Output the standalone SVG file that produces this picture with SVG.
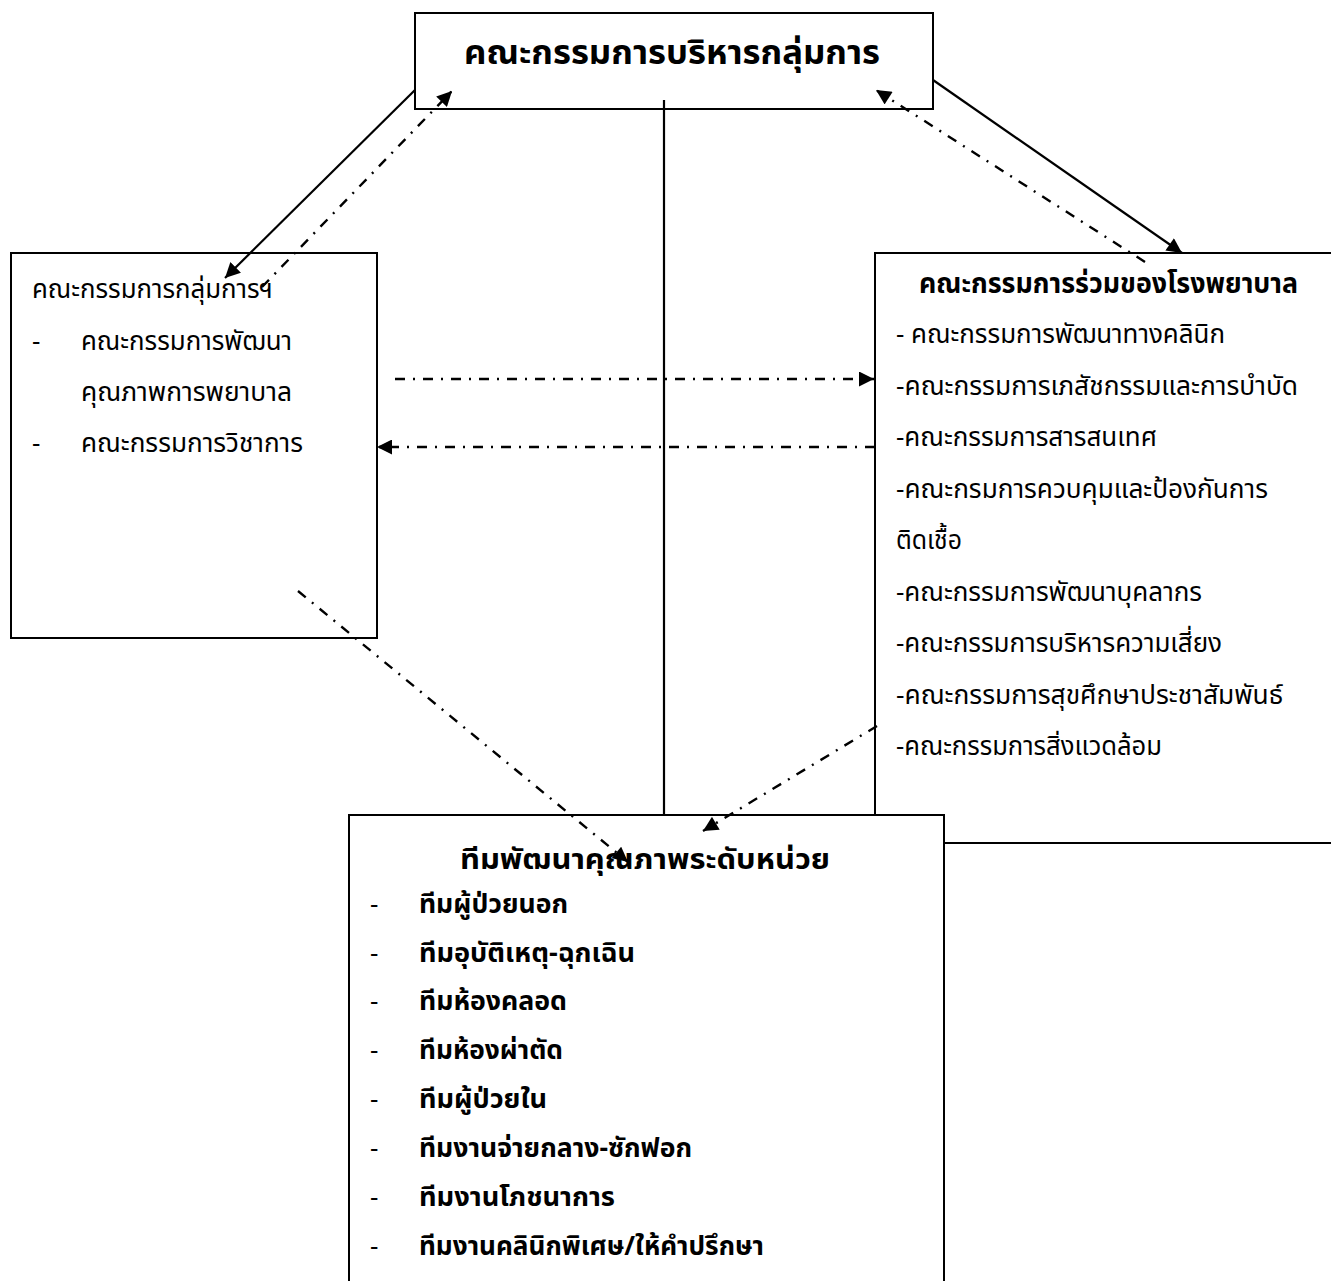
<svg xmlns="http://www.w3.org/2000/svg" width="1331" height="1281" viewBox="0 0 1331 1281">
<style>
text{font-family:"Noto Sans Thai","DejaVu Sans","Noto Sans",sans-serif;fill:#000}
.r{font-size:26px}
.b{font-size:26px;font-weight:bold}
.h{font-size:28px;font-weight:bold}
.t{font-size:34px;font-weight:bold}
.box{fill:#fff;stroke:#000;stroke-width:2}
.sol{stroke:#000;stroke-width:2.2;fill:none}
.dd{stroke:#000;stroke-width:2.4;fill:none;stroke-dasharray:10 8 2 8}
</style>
<defs>
<marker id="ah" viewBox="0 0 10 10" refX="10" refY="5" markerWidth="16" markerHeight="15" markerUnits="userSpaceOnUse" orient="auto">
<path d="M0,0 L10,5 L0,10 z" fill="#000"/>
</marker>
</defs>

<g id="node-right">
<rect class="box" x="875" y="253" width="470" height="590"/>
<text class="h" x="919" y="293" textLength="379" lengthAdjust="spacingAndGlyphs">คณะกรรมการร่วมของโรงพยาบาล</text>
<text class="r" x="896" y="343" textLength="329" lengthAdjust="spacingAndGlyphs">- คณะกรรมการพัฒนาทางคลินิก</text>
<text class="r" x="896" y="395" textLength="402" lengthAdjust="spacingAndGlyphs">-คณะกรรมการเภสัชกรรมและการบำบัด</text>
<text class="r" x="896" y="446" textLength="261" lengthAdjust="spacingAndGlyphs">-คณะกรรมการสารสนเทศ</text>
<text class="r" x="896" y="498" textLength="372" lengthAdjust="spacingAndGlyphs">-คณะกรมการควบคุมและป้องกันการ</text>
<text class="r" x="896" y="549" textLength="66" lengthAdjust="spacingAndGlyphs">ติดเชื้อ</text>
<text class="r" x="896" y="601" textLength="306" lengthAdjust="spacingAndGlyphs">-คณะกรรมการพัฒนาบุคลากร</text>
<text class="r" x="896" y="652" textLength="326" lengthAdjust="spacingAndGlyphs">-คณะกรรมการบริหารความเสี่ยง</text>
<text class="r" x="896" y="704" textLength="387" lengthAdjust="spacingAndGlyphs">-คณะกรรมการสุขศึกษาประชาสัมพันธ์</text>
<text class="r" x="896" y="755" textLength="266" lengthAdjust="spacingAndGlyphs">-คณะกรรมการสิ่งแวดล้อม</text>
</g>

<g id="node-top">
<rect class="box" x="415" y="13" width="518" height="96"/>
<text class="t" x="464" y="64" textLength="416" lengthAdjust="spacingAndGlyphs">คณะกรรมการบริหารกลุ่มการ</text>
</g>

<g id="node-left">
<rect class="box" x="11" y="253" width="366" height="385"/>
<text class="r" x="32" y="298" textLength="241" lengthAdjust="spacingAndGlyphs">คณะกรรมการกลุ่มการฯ</text>
<text class="r" x="32" y="350">-</text>
<text class="r" x="81" y="350" textLength="211" lengthAdjust="spacingAndGlyphs">คณะกรรมการพัฒนา</text>
<text class="r" x="81" y="401" textLength="211" lengthAdjust="spacingAndGlyphs">คุณภาพการพยาบาล</text>
<text class="r" x="32" y="452">-</text>
<text class="r" x="81" y="452" textLength="222" lengthAdjust="spacingAndGlyphs">คณะกรรมการวิชาการ</text>
</g>

<g id="node-bottom">
<rect class="box" x="349" y="815" width="595" height="500"/>
<text class="h" x="460" y="869" textLength="370" lengthAdjust="spacingAndGlyphs">ทีมพัฒนาคุณภาพระดับหน่วย</text>
<text class="r" x="370" y="913">-</text><text class="b" x="419" y="913" textLength="149" lengthAdjust="spacingAndGlyphs">ทีมผู้ป่วยนอก</text>
<text class="r" x="370" y="962">-</text><text class="b" x="419" y="962" textLength="216" lengthAdjust="spacingAndGlyphs">ทีมอุบัติเหตุ-ฉุกเฉิน</text>
<text class="r" x="370" y="1010">-</text><text class="b" x="419" y="1010" textLength="148" lengthAdjust="spacingAndGlyphs">ทีมห้องคลอด</text>
<text class="r" x="370" y="1059">-</text><text class="b" x="419" y="1059" textLength="144" lengthAdjust="spacingAndGlyphs">ทีมห้องผ่าตัด</text>
<text class="r" x="370" y="1108">-</text><text class="b" x="419" y="1108" textLength="128" lengthAdjust="spacingAndGlyphs">ทีมผู้ป่วยใน</text>
<text class="r" x="370" y="1157">-</text><text class="b" x="419" y="1157" textLength="273" lengthAdjust="spacingAndGlyphs">ทีมงานจ่ายกลาง-ซักฟอก</text>
<text class="r" x="370" y="1206">-</text><text class="b" x="419" y="1206" textLength="196" lengthAdjust="spacingAndGlyphs">ทีมงานโภชนาการ</text>
<text class="r" x="370" y="1255">-</text><text class="b" x="419" y="1255" textLength="345" lengthAdjust="spacingAndGlyphs">ทีมงานคลินิกพิเศษ/ให้คำปรึกษา</text>
</g>

<g id="connectors">
<line class="sol" x1="664" y1="100" x2="664" y2="815"/>
<line class="sol" x1="415" y1="90" x2="225" y2="278" marker-end="url(#ah)"/>
<line class="dd" x1="262" y1="287" x2="452" y2="91" marker-end="url(#ah)"/>
<line class="sol" x1="933" y1="80" x2="1182" y2="253" marker-end="url(#ah)"/>
<line class="dd" x1="1145" y1="262" x2="876" y2="90" marker-end="url(#ah)"/>
<line class="dd" x1="395" y1="379" x2="874" y2="379" marker-end="url(#ah)"/>
<line class="dd" x1="875" y1="447" x2="377" y2="447" marker-end="url(#ah)"/>
<line class="dd" x1="298" y1="591" x2="628" y2="862" marker-end="url(#ah)"/>
<line class="dd" x1="877" y1="726" x2="703" y2="831" marker-end="url(#ah)"/>
</g>
</svg>
